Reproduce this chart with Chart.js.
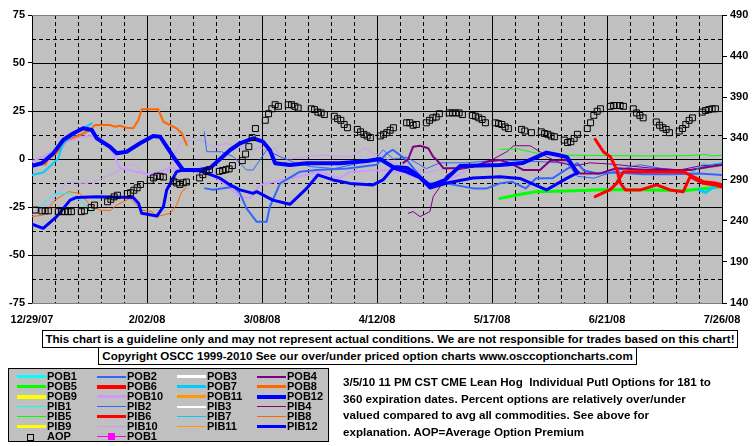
<!DOCTYPE html>
<html>
<head>
<meta charset="utf-8">
<script src="https://cdn.jsdelivr.net/npm/chart.js@4.4.1/dist/chart.umd.min.js"></script>
<style>
body{margin:0;background:#fff;font-family:Arial,"Liberation Sans",sans-serif;}
#wrap{position:relative;width:755px;height:446px;overflow:hidden;background:#fff;}
#chart{position:absolute;left:0;top:0;}
.box{position:absolute;border:1px solid #000;background:#fff;font-weight:bold;font-size:11.6px;white-space:nowrap;text-align:center;box-sizing:border-box;}
#legend{position:absolute;left:8px;top:368px;width:321px;height:74px;border:1px solid #000;background:#c0c0c0;box-sizing:border-box;}
.lg-line{position:absolute;}
.lg-text{position:absolute;font-weight:bold;font-size:11px;line-height:11px;white-space:nowrap;}
#note{position:absolute;left:343px;top:374px;font-weight:bold;font-size:11.6px;line-height:16.5px;white-space:nowrap;}
</style>
</head>
<body>
<div id="wrap">
  <canvas id="chart" width="755" height="446"></canvas>
  <div class="box" style="left:42px;top:330px;width:696px;height:18px;line-height:16px;">This chart is a guideline only and may not represent actual conditions. We are not responsible for trades based on this chart!</div>
  <div class="box" style="left:98px;top:347px;width:539px;height:18px;line-height:16px;">Copyright OSCC 1999-2010 See our over/under priced option charts www.osccoptioncharts.com</div>
  <div id="legend"></div>
  <div id="note">3/5/10 11 PM CST CME Lean Hog&nbsp; Individual Putl Options for 181 to<br>360 expiration dates. Percent options are relatively over/under<br>valued compared to avg all commodities. See above for<br>explanation. AOP=Average Option Premium</div>
</div>
<script>
// x values are days after 12/29/07, left axis is percent over/under, right axis is AOP
const xTickLabels = ['12/29/07', '2/02/08', '3/08/08', '4/12/08', '5/17/08', '6/21/08', '7/26/08'];

// Average option premium (right axis)
const aopDays = [1,3,4,5,8,9,10,11,12,15,16,18,19,23,24,25,26,29,30,31,32,33,36,37,38,39,40,43,44,45,46,47,51,52,53,54,57,58,59,60,61,64,65,66,67,68,71,72,73,74,75,78,79,80,81,85,86,87,88,89,92,93,94,95,96,99,100,101,102,103,106,107,108,109,110,114,115,116,117,120,121,122,123,124,127,128,129,130,131,134,135,136,137,138,141,142,143,144,145,149,150,152,155,156,157,158,159,162,163,164,165,166,169,170,171,172,173,176,177,178,179,180,183,184,185,186,190,191,192,193,194,197,198,199,200,201,204,205,206,207,208];
const aopVals = [253,252,252,252,251,251,251,251,251,251,252,256,259,263,266,269,271,273,274,277,280,284,289,292,294,294,293,288,286,284,286,287,292,296,300,302,300,301,302,303,307,313,321,330,341,352,362,370,376,381,379,381,381,379,377,376,375,372,371,369,367,364,362,357,353,351,348,345,343,341,343,345,347,350,353,359,359,356,357,359,362,365,366,370,371,371,371,371,369,368,367,365,363,359,359,358,357,354,352,351,349,347,348,346,345,343,342,338,335,336,340,345,352,359,368,373,376,379,380,380,380,379,376,371,368,365,360,356,353,351,347,349,352,357,362,365,372,374,375,376,376];

// individual series [day, percent]
const POB1 = [[0,-8.3],[3.4,-7],[6,-3],[8,0.4],[9.5,8.2],[12.6,12.5],[15.6,16],[18.2,18.6]];
const PIB1 = [[2.4,-24.8],[7,-17.9],[10.6,-17.9],[14.6,-21.4],[16.6,-24.8],[18.2,-28.3]];
const POB2 = [[52.7,-15.3],[55.2,-16],[61.3,-14.4],[63.3,-17.9],[65.3,-25.7],[68.4,-32.7],[71.4,-32.7],[72.4,-24.8],[75.5,-12.7],[81.6,-6.6],[86.6,-5.7],[96,-5],[104.9,-3],[108,3],[109.8,4.8],[112,2],[114.3,-1],[116.5,-5.7],[120.3,-12.7],[126,-12.7],[134.3,-15.3],[138.4,-15.3],[142.4,-12.7],[146,-11.8],[150.3,-15.3],[153.4,-10],[158.5,-10],[163,-5],[166,-2.2],[168,-6],[172,-7.5],[178,-7],[186,-8],[195,-8],[203,-7.5],[210,-8.3]];
const PIB2 = [[52.4,14.2],[53.2,3.8],[57.7,3.8],[61.3,1.2],[65.3,-5.7],[67.3,-5.7],[71.4,4.7],[72.4,3.8],[75.5,1.2],[80,-2],[85,-4],[92,-5],[100,-2],[104,-1],[106.9,4.7],[110,0],[114,1],[120,-5],[124.2,-2],[132,-2],[142.4,-0.5],[150,-1],[156,-1.5],[162.7,-2.2],[166,-9],[171,-10],[178,-6],[185,-3],[192,-5],[200,-6],[207,-3],[210,-2]];
const POB4 = [[113,-2],[114.5,0],[116,6.4],[118.1,6.9],[120.6,5.6],[122.1,1.2],[123.2,-0.5],[125.2,-4.8],[129.3,-4.8],[134.3,-4],[138.4,-1.4],[142.4,-0.5],[145.5,-2.2],[149.5,-5.7],[154.6,-5.7],[157.7,-0.9],[162.7,-0.5],[166.8,-7.5],[172.9,-7.5],[177.9,-4.8],[188.1,-5.7],[200.3,-5.7],[206.3,-4],[210,-3.1]];
const PIB4 = [[114.5,-28.3],[116,-27.4],[118.1,-30],[121.1,-27.4],[122.1,-19.6],[124.2,-14.4],[126.2,-8.3],[129.3,-5.7],[134.3,-4.2],[140.4,0],[144.5,3.8],[146.6,6.9],[151.6,6.9],[154.6,3.8],[156.6,1.2],[160.7,-2],[165.3,-3.6],[169.8,-2],[175.9,-2.6],[188.1,-4.7],[197.2,-5.7],[203.3,-3.6],[210,-2.6]];
const POB5 = [[142.4,-20.5],[150,-18],[153.6,-17],[165,-16.5],[173.9,-16],[185,-16],[198.2,-16.5],[208.4,-14.7],[210,-14]];
const PIB5 = [[142.4,5],[148,5.2],[153.6,3],[160,2.5],[163,2],[175,1.8],[188,1.6],[200,1.8],[205,2.4],[207,1.6],[210,2]];
const POB6 = [[171.4,10.3],[173.9,3.8],[176,1.2],[178,-5.7],[179.1,-12.7],[180.6,-16.1],[185.2,-16.1],[190.1,-13.5],[194.2,-16.1],[198.2,-17],[200.3,-9.2],[204.3,-12.7],[207.9,-13.5],[210,-14.6]];
const PIB6 = [[171.4,-19.6],[173.8,-17.7],[175.9,-16.1],[177.9,-12.7],[180,-6.6],[185.2,-6.6],[191.1,-6.8],[198.2,-6.6],[201.2,-9.2],[204.3,-11.8],[207.9,-12.5],[210,-13.5]];
const POB7 = [[203,-16],[205,-17.5],[207,-15],[210,-13]];
const PIB7 = [[199,-8],[202,-6],[204,-2.5],[206,-3],[208,-2.5],[210,-2]];
const POB8 = [[4,-3],[5,0],[7.5,3],[10.6,9.9],[14.6,12.5],[17.7,15.1],[19.2,17.7],[23.7,17.7],[25.3,16.8],[26.8,17.3],[28.8,16.3],[30.8,16],[32.4,20.3],[33.4,25.9],[38.4,25.9],[40,19.4],[42,17.7],[44,16],[45.6,13.4],[47.1,7.3]];
const PIB8 = [[0,-30],[3.4,-29.2],[7,-21.4],[11.1,-17],[14.6,-17.9],[17.7,-24],[20.7,-26.6],[23.7,-26.9],[25.8,-24],[29.8,-20.5],[33.4,-26.6],[36.4,-27.4],[38,-30],[42,-28.3],[44,-24],[45.6,-17],[47,-15]];
const POB10 = [[0,-1.4],[5.5,3],[9.5,8.2],[14.6,11.6],[18.2,12],[23.7,6.4],[26.8,-4.8],[31.9,-6.6],[35.9,-8.3],[42,-4.5],[46,-5.7],[54.2,-7.5],[60.3,-15.3],[63.3,-19.6],[66.3,-20.5],[69.4,-13.5],[80.6,-9.2],[87.7,-6.6],[93.7,-10],[96.8,-6.6],[108,-5.7],[112,-6.8],[118,-10],[122,-13],[127,-11],[132,-6]];
const PIB10 = [[0,-29],[5.5,-23],[10.6,-11.8],[15.6,-12.7],[18.7,-12.1],[24.8,-7.5],[30.8,-2.2],[32.9,-5.7],[35.9,-8.3],[40,-9.2],[42,-4],[45,8.2],[47.1,9.5],[51.1,9.9],[53.2,8.5],[55.1,6.4],[57.7,7.3],[59.3,8.2],[61.2,6.4],[63.3,6.4],[67.4,4.7],[69.4,6.4],[71.4,4.5],[74,5.6],[75.5,1.2],[78.5,0],[87.7,2],[96.8,1.2],[101.3,5.6],[103.9,3],[106.9,1.2],[110,-2],[115,-5],[120,-7],[126,-5],[132,-4]];
const POB12 = [[0,-3.6],[3,-2.2],[6.5,3],[9.5,9.9],[12.6,13.4],[15.6,16],[18.2,15.1],[19.7,10.8],[23.7,6.4],[25.8,3],[28.8,3.8],[32.9,8.2],[36.9,12],[39,11.6],[41,6.4],[43,1.2],[46,-5.7],[51,-5.7],[54.2,-4.7],[60.3,4.7],[63.3,8.2],[67.3,10.8],[70.3,9],[72.4,4.7],[74,-2.2],[78.5,-3.1],[83.6,-2.2],[93.7,-2.2],[101.9,-1],[105.9,0],[109.9,-4.2],[114.1,-4.7],[117.2,-8.3],[121.1,-14],[125.7,-11],[130.3,-3.6],[142.4,-3.1],[149.4,-2.1],[156.6,3.3],[160.1,2.1],[162.8,1],[164.7,-4],[165.9,-7.3]];
const PIB12 = [[0,-33.9],[3.4,-36.1],[7.5,-30],[11.6,-21.4],[13.6,-20],[19.7,-19.6],[30.8,-20],[32.4,-23],[33.4,-28.3],[38,-29.7],[40,-24.8],[41,-16.1],[44,-6.6],[46,-5.7],[51,-6.1],[57.2,-10],[60.3,-13.5],[63.3,-16.1],[67.3,-17.9],[68.4,-17],[73.3,-21.4],[78.5,-23.6],[83.6,-15.3],[87,-8.3],[91.6,-10.9],[96.8,-12.7],[103.8,-13.5],[106.8,-10.9],[109.9,-4.7],[114.1,-6.8],[118.1,-9.9],[121.1,-15.1],[126.3,-12.5],[134.2,-9.9],[142.4,-9.2],[148.5,-10.1],[156.6,-16.1],[162.7,-10.1],[165.9,-7.3]];

// legend entries: name, colour, line width
const legendNames = ['POB1','POB2','POB3','POB4','POB5','POB6','POB7','POB8','POB9','POB10','POB11','POB12',
  'PIB1','PIB2','PIB3','PIB4','PIB5','PIB6','PIB7','PIB8','PIB9','PIB10','PIB11','PIB12'];
const seriesColors = ['#00ffff','#3366ff','#ffffff','#800080','#00ff00','#ff0000','#00ccff','#ff6600','#ffff00','#cc99ff','#ff9900','#0000ff'];
const pobWidths = [3,2,3,2,3,4,3,3,4,3,3,4];
const pibWidths = [1,1,2,1,1,3,1,1,3,1,1,3];

const colorOf = name => seriesColors[parseInt(name.replace(/\D/g, '')) - 1];

const plotted = [
  ['PIB10', PIB10, 1], ['POB10', POB10, 2], ['PIB8', PIB8, 1], ['POB8', POB8, 2],
  ['PIB1', PIB1, 1], ['POB1', POB1, 2], ['PIB2', PIB2, 1], ['POB2', POB2, 2],
  ['PIB4', PIB4, 1], ['POB4', POB4, 2], ['PIB5', PIB5, 1], ['POB5', POB5, 3],
  ['PIB7', PIB7, 1], ['POB7', POB7, 3], ['PIB12', PIB12, 3], ['POB12', POB12, 4],
  ['PIB6', PIB6, 3], ['POB6', POB6, 3]
];

const datasets = plotted.map((s, i) => ({
  label: s[0],
  data: s[1].map(p => ({x: p[0], y: p[1]})),
  borderColor: s[0] === 'POB1' ? '#00ccff' : colorOf(s[0]),
  borderWidth: s[2],
  pointRadius: 0,
  tension: 0,
  fill: false,
  yAxisID: 'y',
  order: plotted.length - i + 1
}));
datasets.push({
  label: 'AOP',
  data: aopDays.map((d, i) => ({x: d, y: aopVals[i]})),
  showLine: false,
  pointStyle: 'rect',
  pointRadius: 4.2,
  pointBorderColor: '#000',
  pointBackgroundColor: 'rgba(0,0,0,0)',
  pointBorderWidth: 1,
  yAxisID: 'y2',
  order: 0
});

const plotBackground = {
  id: 'plotBackground',
  beforeDraw(chart) {
    const {ctx, chartArea: a} = chart;
    ctx.save();
    ctx.fillStyle = '#c0c0c0';
    ctx.fillRect(a.left, a.top, a.right - a.left, a.bottom - a.top);
    ctx.restore();
  },
  beforeDatasetsDraw(chart) {
    const {ctx, chartArea: a, scales} = chart;
    ctx.save();
    ctx.lineWidth = 1;
    ctx.strokeStyle = '#000';
    for (let d = 7; d < 210; d += 7) {
      const px = Math.round(scales.x.getPixelForValue(d)) + 0.5;
      ctx.setLineDash(d % 35 === 0 ? [] : [4, 3]);
      ctx.beginPath(); ctx.moveTo(px, a.top); ctx.lineTo(px, a.bottom); ctx.stroke();
    }
    for (let v = -62.5; v < 75; v += 12.5) {
      const py = Math.round(scales.y.getPixelForValue(v)) + 0.5;
      ctx.setLineDash(v % 25 === 0 ? [] : [4, 3]);
      ctx.beginPath(); ctx.moveTo(a.left, py); ctx.lineTo(a.right, py); ctx.stroke();
    }
    ctx.setLineDash([]);
    ctx.strokeStyle = '#808080';
    ctx.beginPath();
    ctx.moveTo(a.left, Math.round(a.top) + 0.5); ctx.lineTo(a.right, Math.round(a.top) + 0.5);
    ctx.moveTo(a.left, Math.round(a.bottom) + 0.5); ctx.lineTo(a.right, Math.round(a.bottom) + 0.5);
    ctx.stroke();
    ctx.restore();
  }
};

const tickFont = {family: 'Arial, "Liberation Sans", sans-serif', size: 11, weight: 'bold'};

new Chart(document.getElementById('chart'), {
  type: 'line',
  data: {datasets: datasets},
  options: {
    responsive: false,
    animation: false,
    devicePixelRatio: 1,
    layout: {padding: {top: 15, left: 0, right: 0, bottom: 0}},
    plugins: {legend: {display: false}, tooltip: {enabled: false}},
    elements: {line: {borderJoinStyle: 'round', borderCapStyle: 'round'}},
    scales: {
      x: {
        type: 'linear', min: 0, max: 210,
        grid: {display: false, drawTicks: false},
        border: {display: false},
        ticks: {
          stepSize: 35, autoSkip: false, maxRotation: 0, padding: 10,
          color: '#000', font: tickFont,
          callback: v => xTickLabels[Math.round(v / 35)]
        },
        afterFit: s => { s.height = 143; }
      },
      y: {
        position: 'left', min: -75, max: 75,
        grid: {drawOnChartArea: false, tickLength: 4, color: '#000'},
        border: {color: '#000'},
        ticks: {stepSize: 25, padding: 3, color: '#000', font: tickFont},
        afterFit: s => { s.width = 32; }
      },
      y2: {
        position: 'right', min: 140, max: 490,
        grid: {drawOnChartArea: false, tickLength: 5, color: '#000'},
        border: {color: '#000'},
        ticks: {stepSize: 50, padding: 3, color: '#000', font: tickFont},
        afterFit: s => { s.width = 33; }
      }
    }
  },
  plugins: [plotBackground]
});

// legend box
const legend = document.getElementById('legend');
const addEntry = (row, col, name, color, width, marker) => {
  const top = 8 + row * 10;
  const left = 8 + col * 80;
  const line = document.createElement('div');
  line.className = 'lg-line';
  if (marker === 'box') {
    line.style.cssText = 'left:' + (left + 10) + 'px;top:' + (top - 3) + 'px;width:5px;height:5px;border:1px solid #000;';
  } else {
    line.style.cssText = 'left:' + left + 'px;top:' + (top - Math.ceil(width / 2)) + 'px;width:29px;height:' + width + 'px;background:' + color + ';';
    if (marker === 'square') {
      const sq = document.createElement('div');
      sq.style.cssText = 'position:absolute;left:11px;top:' + (Math.floor(width / 2) - 3) + 'px;width:7px;height:7px;background:' + color + ';';
      line.appendChild(sq);
    }
  }
  legend.appendChild(line);
  const txt = document.createElement('div');
  txt.className = 'lg-text';
  txt.style.cssText = 'left:' + (left + 30) + 'px;top:' + (top - 6) + 'px;';
  txt.textContent = name;
  legend.appendChild(txt);
};
legendNames.forEach((n, i) => {
  const isPob = i < 12;
  const k = i % 12;
  addEntry(Math.floor(i / 4), i % 4, n, seriesColors[k], isPob ? pobWidths[k] : pibWidths[k]);
});
addEntry(6, 0, 'AOP', '#000', 1, 'box');
addEntry(6, 1, 'POB1', '#ff00ff', 1, 'square');
</script>
</body>
</html>
